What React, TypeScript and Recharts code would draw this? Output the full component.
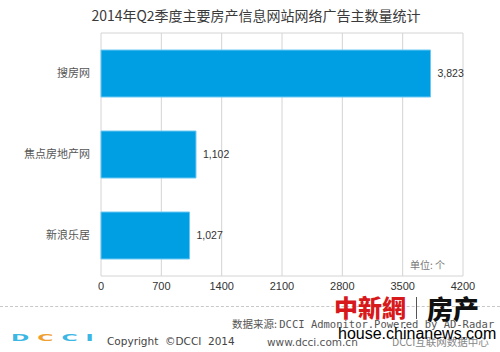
// External imports
import { BarChart, Bar, XAxis, YAxis, CartesianGrid, LabelList } from 'recharts';

// Data
const sites = ['搜房网', '焦点房地产网', '新浪乐居'];
const advertisers = [3823, 1102, 1027];
const xTicks = [0, 700, 1400, 2100, 2800, 3500, 4200];

const chartData = sites.map((name, idx) => ({ name, value: advertisers[idx] }));

const CJK = '"Noto Sans CJK SC", "Liberation Sans", sans-serif';
const LATIN = '"Liberation Sans", Arial, sans-serif';

const formatCount = (v: number | string) => Number(v).toLocaleString('en-US');

const DcciLogo = () => (
    <div
        style={{
            position: 'absolute',
            left: 11,
            top: 333,
            fontFamily: '"DejaVu Sans", sans-serif',
            fontWeight: 700,
            fontSize: 22,
            letterSpacing: 8,
            transform: 'scaleY(0.42)',
            transformOrigin: 'left top',
            lineHeight: '22px',
            whiteSpace: 'nowrap',
        }}
    >
        <span style={{ color: '#3cb6e3' }}>D</span>
        <span style={{ color: '#f0a030' }}>C</span>
        <span style={{ color: '#3cb6e3' }}>C</span>
        <span style={{ color: '#3cb6e3' }}>I</span>
    </div>
);

const App = () => {
    return (
        <div
            style={{
                position: 'absolute',
                left: 0,
                top: 0,
                width: 500,
                height: 352,
                background: '#fff',
                overflow: 'hidden',
            }}
        >
            <div
                style={{
                    position: 'absolute',
                    left: 0,
                    width: 512,
                    top: 6,
                    textAlign: 'center',
                    fontFamily: CJK,
                    fontSize: 14,
                    color: '#3a3a3a',
                    lineHeight: '18px',
                }}
            >
                2014年Q2季度主要房产信息网站网络广告主数量统计
            </div>

            <BarChart
                width={500}
                height={352}
                data={chartData}
                layout="vertical"
                margin={{ top: 33, right: 37, bottom: 46, left: 0 }}
                style={{ position: 'absolute', left: 0, top: 0 }}
            >
                <CartesianGrid
                    stroke="#d4d4d4"
                    horizontalPoints={[33, 276]}
                />
                <XAxis
                    type="number"
                    domain={[0, 4200]}
                    ticks={xTicks}
                    interval={0}
                    height={30}
                    axisLine={false}
                    tickLine={false}
                    tickMargin={0}
                    tick={{ fontSize: 11, fill: '#333', fontFamily: LATIN }}
                />
                <YAxis
                    type="category"
                    dataKey="name"
                    width={101}
                    axisLine={false}
                    tickLine={false}
                    tickMargin={5}
                    tick={{ fontSize: 11, fill: '#555', fontFamily: CJK }}
                />
                <Bar
                    dataKey="value"
                    fill="#009fe3"
                    stroke="#6cc8f2"
                    strokeWidth={1}
                    barSize={47}
                    isAnimationActive={false}
                >
                    <LabelList
                        dataKey="value"
                        position="right"
                        offset={7}
                        formatter={formatCount}
                        style={{ fontSize: 10.5, fill: '#333', fontFamily: LATIN }}
                    />
                </Bar>
            </BarChart>

            <div
                style={{
                    position: 'absolute',
                    left: 410,
                    top: 259,
                    fontFamily: CJK,
                    fontSize: 10,
                    lineHeight: '12px',
                    color: '#777',
                    whiteSpace: 'nowrap',
                }}
            >
                单位: 个
            </div>

            {/* footer */}
            <div
                style={{
                    position: 'absolute',
                    left: 0,
                    right: 0,
                    top: 306,
                    borderTop: '1px dashed #c8c8c8',
                }}
            />
            <div
                style={{
                    position: 'absolute',
                    left: 232,
                    top: 318,
                    fontFamily: '"DejaVu Sans Mono", monospace',
                    fontSize: 10.5,
                    lineHeight: '12px',
                    color: '#555',
                    whiteSpace: 'nowrap',
                }}
            >
                <span style={{ fontFamily: CJK }}>数据来源: </span>DCCI Admonitor.Powered by AD-Radar
            </div>
            <DcciLogo />
            <div
                style={{
                    position: 'absolute',
                    left: 107,
                    top: 335,
                    fontFamily: '"DejaVu Sans", sans-serif',
                    fontSize: 10.5,
                    lineHeight: '12px',
                    color: '#444',
                    whiteSpace: 'nowrap',
                }}
            >
                Copyright &nbsp;©DCCI &nbsp;2014
            </div>
            <div
                style={{
                    position: 'absolute',
                    left: 267,
                    top: 336,
                    fontFamily: '"DejaVu Sans", sans-serif',
                    fontSize: 10.5,
                    lineHeight: '12px',
                    color: '#555',
                    whiteSpace: 'nowrap',
                }}
            >
                www.dcci.com.cn
            </div>
            <div
                style={{
                    position: 'absolute',
                    left: 392,
                    top: 336,
                    fontFamily: CJK,
                    fontSize: 10.5,
                    lineHeight: '12px',
                    color: '#888',
                    whiteSpace: 'nowrap',
                }}
            >
                DCCI互联网数据中心
            </div>

            {/* chinanews watermark */}
            <div
                style={{
                    position: 'absolute',
                    left: 334,
                    top: 296,
                    fontFamily: '"Noto Sans CJK TC", serif',
                    fontWeight: 900,
                    fontSize: 24,
                    color: '#d7191c',
                    lineHeight: '22px',
                    whiteSpace: 'nowrap',
                }}
            >
                中新網
            </div>
            <div
                style={{
                    position: 'absolute',
                    left: 416,
                    top: 297,
                    width: 1,
                    height: 22,
                    background: '#555',
                }}
            />
            <div
                style={{
                    position: 'absolute',
                    left: 427,
                    top: 297,
                    fontFamily: CJK,
                    fontWeight: 900,
                    fontSize: 26,
                    color: '#111',
                    lineHeight: '22px',
                    whiteSpace: 'nowrap',
                }}
            >
                房产
            </div>
            <div
                style={{
                    position: 'absolute',
                    left: 338,
                    top: 326,
                    fontFamily: LATIN,
                    fontSize: 16,
                    color: '#000',
                    lineHeight: '16px',
                    whiteSpace: 'nowrap',
                }}
            >
                house.chinanews.com
            </div>
        </div>
    );
};

export default App;
